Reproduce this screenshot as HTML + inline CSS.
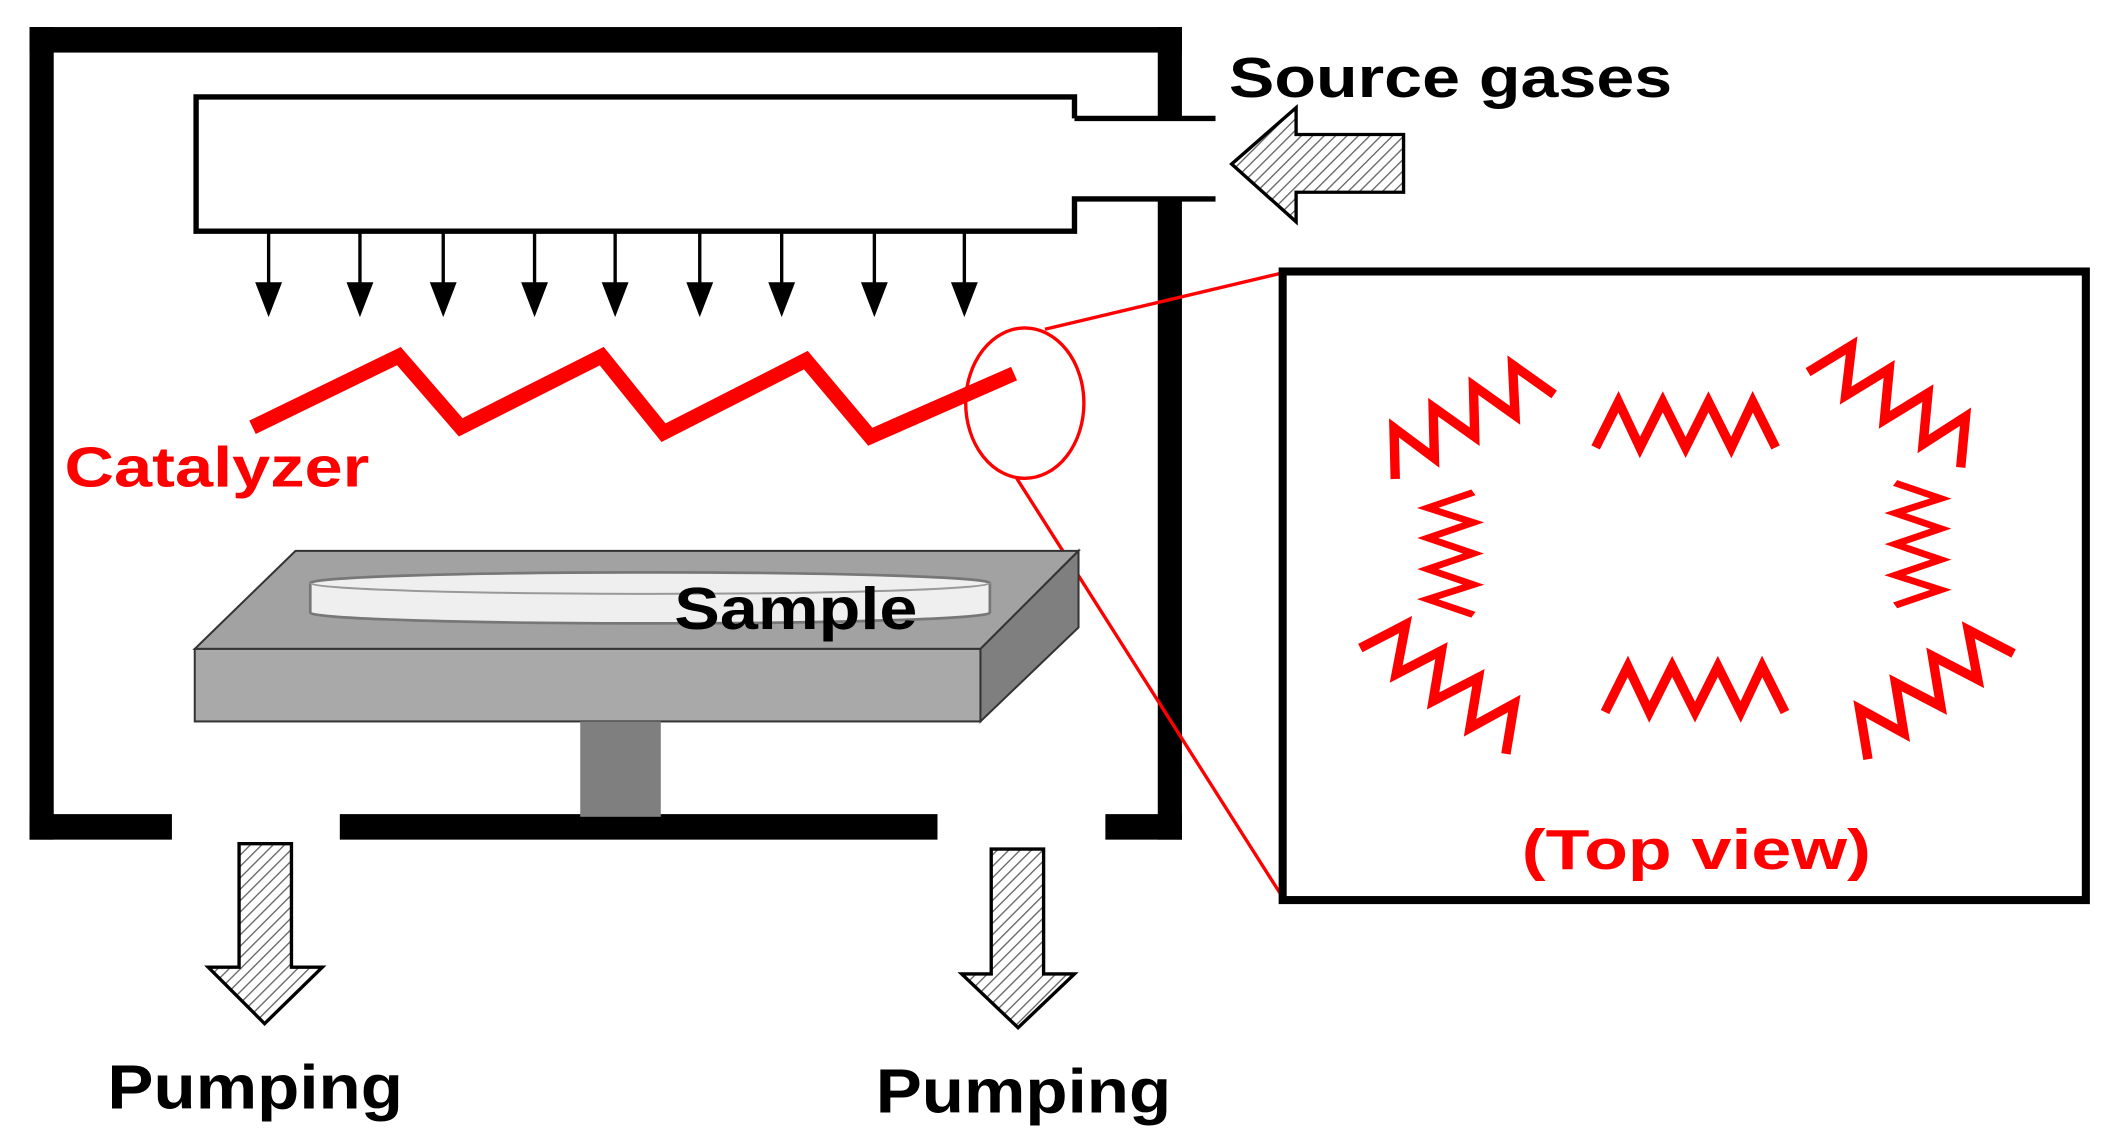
<!DOCTYPE html>
<html><head><meta charset="utf-8"><style>html,body{margin:0;padding:0;background:#fff}svg{display:block}</style></head>
<body>
<svg width="2106" height="1138" viewBox="0 0 1568 847" xmlns="http://www.w3.org/2000/svg">
<defs>
<pattern id="h" width="6" height="6" patternUnits="userSpaceOnUse" patternTransform="rotate(45)">
<rect width="6" height="6" fill="#fff"/><line x1="0" y1="0" x2="0" y2="6" stroke="#666" stroke-width="2"/>
</pattern>
<g id="zz"><polyline points="-67,17 -50,-17 -34,17 -17,-17 0,17 17,-17 34,17 50,-17 67,17" fill="none" stroke="#f00" stroke-width="7" stroke-linejoin="miter"/></g>
</defs>
<g fill="#000">
<rect x="22" y="20" width="858" height="19"/>
<rect x="22" y="20" width="18" height="605"/>
<rect x="862" y="20" width="18" height="68"/>
<rect x="862" y="148" width="18" height="477"/>
<rect x="22" y="606" width="106" height="19"/>
<rect x="253" y="606" width="445" height="19"/>
<rect x="823" y="606" width="57" height="19"/>
</g>
<polyline points="800,88 800,72 146,72 146,172 800,172 800,148 905,148" fill="none" stroke="#000" stroke-width="4"/>
<line x1="800" y1="88" x2="905" y2="88" stroke="#000" stroke-width="4"/>
<g stroke="#000" stroke-width="2.5" fill="#000">
<g id="ar"><line x1="200" y1="170" x2="200" y2="215"/><polygon points="190,210 210,210 200,236" stroke="none"/></g>
<use href="#ar" x="68"/><use href="#ar" x="130"/><use href="#ar" x="198"/><use href="#ar" x="258"/><use href="#ar" x="321"/><use href="#ar" x="382"/><use href="#ar" x="451"/><use href="#ar" x="518"/>
</g>
<polyline points="188,318 297,265 343,318 448,265 494,322 600,268 648,325 755,278" fill="none" stroke="#f00" stroke-width="11" stroke-linejoin="miter"/>
<ellipse cx="763" cy="300" rx="44" ry="56" fill="none" stroke="#f00" stroke-width="2.5"/>
<line x1="778" y1="245" x2="955" y2="203" stroke="#f00" stroke-width="2.5"/>
<line x1="757" y1="356" x2="955" y2="668" stroke="#f00" stroke-width="2.5"/>
<text x="48" y="362" textLength="227" lengthAdjust="spacingAndGlyphs" font-family="Liberation Sans, sans-serif" font-weight="bold" font-size="42" fill="#f00">Catalyzer</text>
<text x="915" y="72" textLength="330" lengthAdjust="spacingAndGlyphs" font-family="Liberation Sans, sans-serif" font-weight="bold" font-size="42" fill="#000">Source gases</text>
<polygon points="917,122 965,80 965,100 1045,100 1045,143 965,143 965,165" fill="url(#h)" stroke="#000" stroke-width="2.5"/>
<polygon points="145,483 220,410 803,410 730,483" fill="#a2a2a2" stroke="#333" stroke-width="1.5"/>
<rect x="145" y="483" width="585" height="54" fill="#a9a9a9" stroke="#333" stroke-width="1.5"/>
<polygon points="730,483 803,410 803,467 730,537" fill="#7f7f7f" stroke="#333" stroke-width="1.5"/>
<path d="M231,434 A253,8 0 0 1 737,434 L737,456 A253,8 0 0 1 231,456 Z" fill="#efefef" stroke="#777" stroke-width="2"/>
<path d="M231,434 A253,8 0 0 0 737,434" fill="none" stroke="#999" stroke-width="1.5"/>
<rect x="432" y="537" width="60" height="71" fill="#7f7f7f"/>
<text x="502" y="468" textLength="181" lengthAdjust="spacingAndGlyphs" font-family="Liberation Sans, sans-serif" font-weight="bold" font-size="44" fill="#000">Sample</text>
<polygon points="178,628 217,628 217,720 240,720 197,762 155,720 178,720" fill="url(#h)" stroke="#000" stroke-width="2.5"/>
<polygon points="738,632 777,632 777,725 800,725 758,765 716,725 738,725" fill="url(#h)" stroke="#000" stroke-width="2.5"/>
<text x="80" y="825" textLength="220" lengthAdjust="spacingAndGlyphs" font-family="Liberation Sans, sans-serif" font-weight="bold" font-size="46" fill="#000">Pumping</text>
<text x="652" y="828" textLength="220" lengthAdjust="spacingAndGlyphs" font-family="Liberation Sans, sans-serif" font-weight="bold" font-size="46" fill="#000">Pumping</text>
<rect x="955" y="202" width="598" height="468" fill="#fff" stroke="#000" stroke-width="6"/>
<use href="#zz" transform="translate(1255,316)"/>
<use href="#zz" transform="translate(1262,513)"/>
<use href="#zz" transform="translate(1090,310) rotate(-28)"/>
<use href="#zz" transform="translate(1412,298) rotate(32)"/>
<use href="#zz" transform="translate(1080,412) rotate(-90) scale(0.68,1)"/>
<use href="#zz" transform="translate(1428,405) rotate(90) scale(0.68,1)"/>
<use href="#zz" transform="translate(1077,508) rotate(36)"/>
<use href="#zz" transform="translate(1435,512) rotate(-36)"/>
<text x="1133" y="647" textLength="260" lengthAdjust="spacingAndGlyphs" font-family="Liberation Sans, sans-serif" font-weight="bold" font-size="42" fill="#f00">(Top view)</text>
</svg>
</body></html>
